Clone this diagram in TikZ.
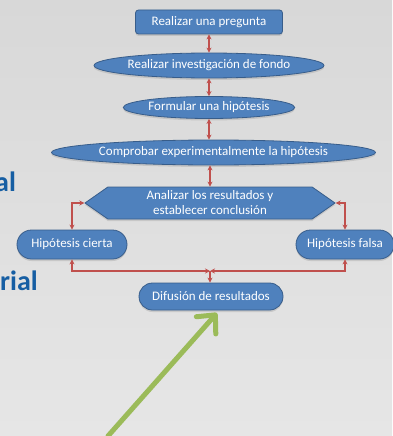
\documentclass[tikz,border=0pt]{standalone}
\usepackage{fontspec}
\setmainfont{Carlito}
\usetikzlibrary{shapes.geometric,shapes.symbols,shapes.misc,arrows.meta,shadows}
\definecolor{boxfill}{RGB}{79,129,189}
\definecolor{boxline}{RGB}{56,93,138}
\definecolor{linkred}{RGB}{192,80,77}
\definecolor{pointgreen}{RGB}{155,187,89}
\definecolor{titleblue}{RGB}{22,94,163}
\definecolor{bgtop}{RGB}{216,216,216}
\definecolor{bgbottom}{RGB}{230,230,230}
\tikzset{
  box/.style={fill=boxfill, draw=boxline, line width=0.8pt, text=white,
    font=\fontsize{13}{15}\selectfont, inner sep=0pt, align=center,
    drop shadow={shadow xshift=0pt, shadow yshift=-2pt, opacity=0.25}},
  squarebox/.style={box, rectangle, rounded corners=3pt},
  ovalbox/.style={box, ellipse},
  pillbox/.style={box, rounded rectangle},
  hexbox/.style={box, signal, signal to=east and west, signal pointer angle=70},
  link/.style={draw=linkred, line width=1.4pt,
    {Stealth[length=5pt,width=5pt]}-{Stealth[length=5pt,width=5pt]}},
  linkone/.style={draw=linkred, line width=1.4pt, -{Stealth[length=5pt,width=5pt]}},
  slidetext/.style={text=titleblue, font=\fontsize{28}{30}\selectfont\bfseries,
    anchor=base west, inner sep=0pt},
  pointer/.style={draw=pointgreen, line width=5pt, line cap=round, line join=round,
    -{Straight Barb[length=14pt,width=26pt,line cap=round,line join=round]}}
}
\begin{document}
\begin{tikzpicture}[x=1pt,y=-1pt]
  % slide background
  \shade[top color=bgtop, bottom color=bgbottom] (0,0) rectangle (392,436);
  \useasboundingbox (0,0) rectangle (392,436);

  % slide headings, running off the left edge
  \node[slidetext] (h1) at (-5,191) {al};
  \node[slidetext] (h2) at (0,290) {rial};

  % flowchart steps
  \node[squarebox, minimum width=147pt, minimum height=24pt] (n1) at (209,22) {Realizar una pregunta};
  \node[ovalbox, minimum width=192pt, minimum height=25pt] (n2) at (209,65.5) {Realizar investigación de fondo};
  \node[ovalbox, minimum width=144pt, minimum height=22pt] (n3) at (209,107.5) {Formular una hipótesis};
  \node[ovalbox, minimum width=291pt, minimum height=25pt] (n4) at (213.5,152.5) {Comprobar experimentalmente la hipótesis};
  \node[hexbox, minimum width=250pt, minimum height=32pt] (n5) at (210,203) {Analizar los resultados y\\establecer conclusión};
  \node[pillbox, minimum width=110pt, minimum height=29pt] (n6) at (72,244.5) {Hipótesis cierta};
  \node[pillbox, minimum width=98pt, minimum height=29pt] (n7) at (345,244.5) {Hipótesis falsa};
  \node[pillbox, minimum width=144pt, minimum height=27pt] (n8) at (211,296.5) {Difusión de resultados};

  % connectors
  \draw[link] (n1.south) -- (n2.north);
  \draw[link] (n2.south) -- (n3.north);
  \draw[link] (n3.south) -- (n3.south |- n4.north);
  \draw[link] (n5.north |- n4.south) -- (n5.north);
  \draw[link] (n5.west) -| (n6.north);
  \draw[link] (n5.east) -| (n7.north);
  \coordinate (j) at (210,271);
  \draw[link] (n6.south) |- (j);
  \draw[link] (n7.south) |- (j);
  \draw[linkone] (j) -- (j |- n8.north);

  % green pointer arrow
  \coordinate (p0) at (108,436);
  \coordinate (p1) at (217,313);
  \draw[pointer] (p0) -- (p1);
\end{tikzpicture}
\end{document}
